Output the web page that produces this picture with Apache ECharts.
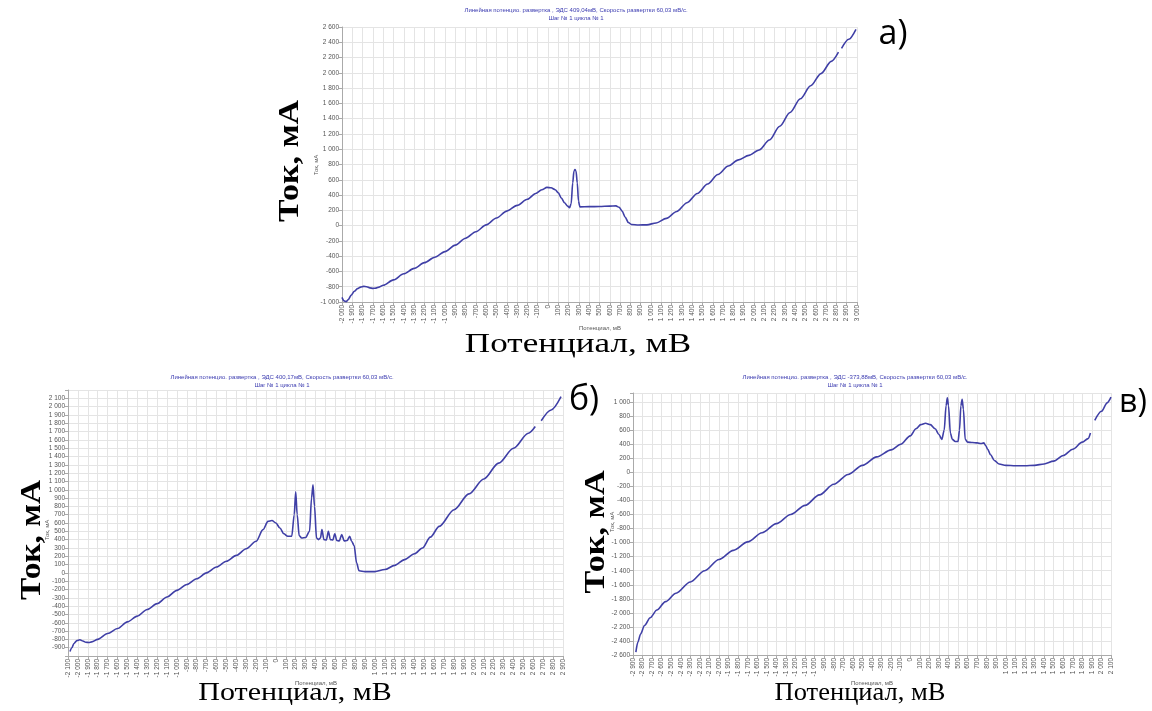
<!DOCTYPE html>
<html><head><meta charset="utf-8">
<script src="https://cdn.jsdelivr.net/npm/echarts@6/dist/echarts.min.js"></script>
<style>html,body{margin:0;padding:0;background:#fff}#c{width:1152px;height:711px}</style>
</head><body><div id="c"></div>
<script>
// ---- chart а) ----
const potA = [-2000,-1980,-1960,-1940,-1910,-1880,-1850,-1820,-1790,-1760,-1730,-1700,-1670,-1640,-1600,-1500,-1400,-1300,-1200,-1100,-1000,-900,-800,-700,-600,-500,-400,-300,-200,-120,-60,-10,30,70,100,130,160,190,210,225,240,252,262,272,284,296,310,400,500,600,660,690,720,750,780,810,880,960,1050,1150,1250,1350,1450,1550,1650,1750,1850,1950,2050,2150,2250,2350,2450,2550,2650,2750,2820,2835,2850,2920,2990];
const curA = [-940,-985,-995,-970,-910,-860,-825,-805,-795,-800,-815,-822,-818,-805,-780,-710,-630,-560,-485,-415,-340,-255,-165,-80,10,100,190,265,345,420,470,500,495,470,430,360,300,255,235,290,560,715,735,715,560,320,245,248,250,255,258,240,190,110,40,15,8,10,35,95,185,300,420,545,670,780,860,920,990,1120,1300,1480,1660,1830,1990,2150,2270,null,2320,2440,2570];
// ---- chart б) ----
const potB = [-2080,-2060,-2040,-2010,-1980,-1950,-1920,-1890,-1860,-1800,-1700,-1600,-1500,-1400,-1300,-1200,-1100,-1000,-900,-800,-700,-600,-500,-400,-300,-200,-130,-80,-40,0,40,80,120,160,185,200,215,235,260,300,340,360,375,390,410,430,450,465,485,510,530,550,575,595,615,640,665,690,720,745,765,790,815,840,900,1000,1100,1200,1300,1400,1480,1560,1650,1800,1950,2100,2250,2400,2550,2620,2650,2680,2780,2880];
const curB = [-945,-900,-850,-815,-805,-820,-835,-838,-830,-800,-730,-670,-590,-520,-440,-370,-290,-210,-140,-70,0,70,140,210,290,380,520,620,630,600,540,470,440,440,700,975,700,450,420,425,500,900,1060,800,420,400,420,520,400,395,500,400,395,470,390,385,460,385,390,440,380,330,120,25,15,15,40,90,160,230,300,430,560,760,950,1130,1320,1500,1680,1760,null,1830,1960,2120];
// ---- chart в) ----
const potC = [-2870,-2850,-2820,-2780,-2720,-2650,-2560,-2450,-2300,-2150,-2000,-1850,-1700,-1550,-1400,-1250,-1100,-950,-800,-650,-500,-350,-200,-100,0,60,110,160,210,260,300,330,355,375,388,400,420,440,470,500,515,530,543,556,575,600,650,700,740,770,790,810,840,880,930,1000,1100,1200,1300,1400,1500,1600,1700,1800,1860,1885,1905,1930,2000,2060,2100];
const curC = [-2560,-2420,-2300,-2180,-2070,-1960,-1840,-1720,-1560,-1400,-1240,-1110,-990,-860,-730,-600,-470,-320,-170,-30,100,220,320,400,520,620,680,700,680,620,540,470,600,950,1060,950,560,470,440,440,600,950,1040,900,470,430,425,420,410,420,380,330,250,170,120,100,95,95,100,120,160,240,330,430,480,560,null,740,870,990,1070];

const titleLine1 = ['Линейная потенцио. развертка , ЭДС 409,04мВ, Скорость развертки 60,03 мВ/с.',
                    'Линейная потенцио. развертка , ЭДС 400,17мВ, Скорость развертки 60,03 мВ/с.',
                    'Линейная потенцио. развертка , ЭДС -373,88мВ, Скорость развертки 60,03 мВ/с.'];
const titleLine2 = 'Шаг № 1 цикла № 1';
const panelLetters = ['а)', 'б)', 'в)'];
const bigY = 'Ток, мА';
const bigX = 'Потенциал, мВ';
const smallY = 'Ток, мА';
const smallX = 'Потенциал, мВ';

function fmt(v){ const s = Math.abs(v).toString().replace(/\B(?=(\d{3})+(?!\d))/g, '\u00a0'); return (v < 0 ? '-' : '') + s; }
function pairs(xs, ys){ return xs.map((x, i) => [x, ys[i] === null ? '-' : ys[i]]); }

const LINE = '#3f3fa6';
const GRIDC = '#e4e4e4';
const LAB = '#555';
const grids = [
  {left: 342, top: 27, width: 515, height: 275},
  {left: 68, top: 390, width: 495, height: 266},
  {left: 633, top: 393, width: 478, height: 262}
];
const xr = [[-2000, 3000], [-2100, 2900], [-2900, 2100]];
const yr = [[-1000, 2600, 200], [-1000, 2200, 100], [-2600, 1130, 200]];

const xAxis = xr.map((r, i) => ({
  type: 'value', gridIndex: i, min: r[0], max: r[1], interval: 100,
  axisLine: {show: true, onZero: false, lineStyle: {color: '#aaa'}},
  axisTick: {show: true, length: 3, lineStyle: {color: '#aaa'}},
  splitLine: {show: true, lineStyle: {color: GRIDC, width: 1}},
  axisLabel: {rotate: 90, interval: 0, hideOverlap: false, fontSize: 6.5, color: LAB, margin: 3, fontFamily: 'Liberation Sans', formatter: fmt}
}));
const yAxis = yr.map((r, i) => ({
  type: 'value', gridIndex: i, min: r[0], max: r[1], interval: r[2],
  axisLine: {show: true, onZero: false, lineStyle: {color: '#aaa'}},
  axisTick: {show: true, length: 3, lineStyle: {color: '#aaa'}},
  splitLine: {show: true, lineStyle: {color: GRIDC, width: 1}},
  axisLabel: {interval: 0, hideOverlap: false, fontSize: 6.5, color: LAB, margin: 3, fontFamily: 'Liberation Sans',
    formatter: v => ((i === 1 && (v === -1000 || v === 2200)) || v % r[2] !== 0) ? '' : fmt(v)}
}));
const datas = [pairs(potA, curA), pairs(potB, curB), pairs(potC, curC)];
const series = datas.map((d, i) => ({
  type: 'line', xAxisIndex: i, yAxisIndex: i, data: d, showSymbol: false, smooth: 0.3, smoothMonotone: 'x',
  connectNulls: false, lineStyle: {color: LINE, width: 1.6}, animation: false
}));

function txt(x, y, text, font, opts){ return Object.assign({type: 'text', x: x, y: y, style: Object.assign({text: text, font: font, fill: '#000', align: 'center', verticalAlign: 'middle'}, opts && opts.style || {})}, opts && opts.el || {}); }
const TF = '6px "Liberation Sans"';
const BLUE = '#3b3bb0';
const graphic = [
  // titles
  txt(576, 10, titleLine1[0], TF, {style: {fill: BLUE}}), txt(576, 18, titleLine2, TF, {style: {fill: BLUE}}),
  txt(282, 377, titleLine1[1], TF, {style: {fill: BLUE}}), txt(282, 385, titleLine2, TF, {style: {fill: BLUE}}),
  txt(855, 377, titleLine1[2], TF, {style: {fill: BLUE}}), txt(855, 385, titleLine2, TF, {style: {fill: BLUE}}),
  // small axis names
  txt(600, 328, smallX, TF, {style: {fill: '#555'}}),
  txt(316, 165, smallY, TF, {style: {fill: '#555'}, el: {rotation: Math.PI / 2}}),
  txt(316, 683, smallX, TF, {style: {fill: '#555'}}),
  txt(47, 530, smallY, TF, {style: {fill: '#555'}, el: {rotation: Math.PI / 2}}),
  txt(872, 683, smallX, TF, {style: {fill: '#555'}}),
  txt(612, 522, smallY, TF, {style: {fill: '#555'}, el: {rotation: Math.PI / 2}}),
  // big labels
  txt(291, 161, bigY, 'bold 29px "Liberation Serif"', {el: {rotation: Math.PI / 2, scaleX: 1.17}}),
  txt(33, 540, bigY, 'bold 29px "Liberation Serif"', {el: {rotation: Math.PI / 2, scaleX: 1.15}}),
  txt(597, 532, bigY, 'bold 29px "Liberation Serif"', {el: {rotation: Math.PI / 2, scaleX: 1.18}}),
  txt(578, 345, bigX, '27px "Liberation Serif"', {el: {scaleX: 1.3}}),
  txt(295, 693, bigX, '25px "Liberation Serif"', {el: {scaleX: 1.2}}),
  txt(860, 693, bigX, '25px "Liberation Serif"', {el: {scaleX: 1.06}}),
  txt(893, 34, panelLetters[0], '34px "Open Sans"'),
  txt(584, 400, panelLetters[1], '34px "Open Sans"'),
  txt(1133, 403, panelLetters[2], '32px "Open Sans"')
];

const chart = echarts.init(document.getElementById('c'), null, {renderer: 'canvas'});
chart.setOption({backgroundColor: '#fff', animation: false, grid: grids, xAxis: xAxis, yAxis: yAxis, series: series, graphic: graphic});
</script></body></html>
